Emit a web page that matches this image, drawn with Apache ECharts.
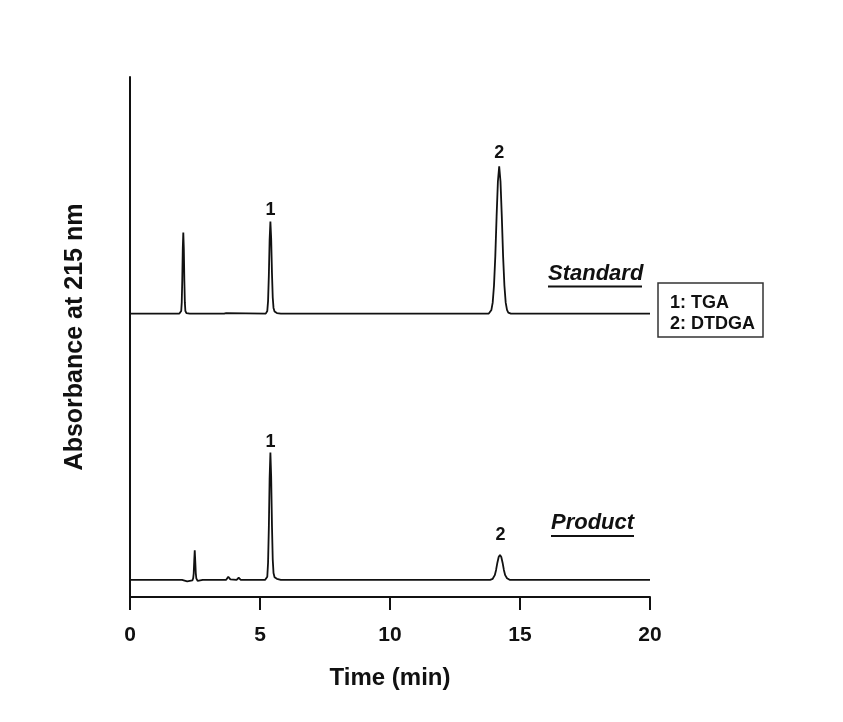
<!DOCTYPE html>
<html>
<head>
<meta charset="utf-8">
<script src="https://cdn.jsdelivr.net/npm/echarts@6/dist/echarts.min.js"></script>
<style>
html,body{margin:0;padding:0;background:#fff;}
#chart{width:843px;height:722px;}
</style>
</head>
<body>
<div id="chart"></div>
<script>
// ---- data ----
const xTicks = [0, 5, 10, 15, 20];
const xAxisTitle = 'Time (min)';
const yAxisTitle = 'Absorbance at 215 nm';

// Standard chromatogram (time in min, absorbance in arbitrary units, offset trace)
const standardTrace = [
  [0,54.5],[1.9,54.5],[1.97,55.0],[1.99,56.6],[2.01,60.9],[2.03,67.0],[2.05,70.1],
  [2.07,67.0],[2.09,60.9],[2.11,56.6],[2.13,55.0],[2.17,54.6],[2.3,54.5],
  [3.62,54.5],[3.66,54.3],[3.7,54.6],[3.75,54.5],
  [5.22,54.5],[5.28,55.0],[5.31,56.9],[5.34,61.8],[5.37,68.7],[5.40,72.2],
  [5.43,68.9],[5.46,62.3],[5.49,57.6],[5.52,55.6],[5.56,54.9],[5.65,54.6],[5.8,54.5],
  [13.8,54.5],[13.85,54.7],[13.9,55.2],[13.95,56.6],[14.0,59.9],[14.05,65.5],
  [14.1,73.2],[14.15,79.9],[14.2,82.8],[14.25,79.9],[14.3,73.2],[14.35,65.5],
  [14.4,59.9],[14.45,56.6],[14.5,55.2],[14.55,54.7],[14.65,54.5],[20,54.5]
];

// Product chromatogram
const productTrace = [
  [0,3.3],[2.0,3.3],[2.2,3.0],[2.4,3.2],[2.43,3.6],[2.45,4.5],[2.47,6.9],[2.49,9.0],
  [2.51,6.9],[2.53,4.6],[2.55,3.6],[2.6,3.1],[2.8,3.3],
  [3.7,3.3],[3.78,3.9],[3.86,3.4],[4.1,3.3],[4.18,3.7],[4.26,3.3],
  [5.2,3.3],[5.28,3.9],[5.31,6.6],[5.34,13.3],[5.37,22.9],[5.40,27.8],
  [5.43,23.0],[5.46,13.8],[5.49,7.2],[5.52,4.6],[5.56,3.8],[5.65,3.5],[5.8,3.3],
  [13.85,3.3],[13.95,3.5],[14.03,4.2],[14.08,5.2],[14.13,6.6],[14.18,7.7],[14.23,8.1],
  [14.28,7.7],[14.33,6.6],[14.38,5.2],[14.43,4.2],[14.5,3.6],[14.6,3.3],[20,3.3]
];

// Peak number labels (name, time, label anchor)
const peakLabels = [
  ['1', 5.40, 74.4],
  ['2', 14.2, 85.4],
  ['1', 5.40, 29.8],
  ['2', 14.25, 11.9]
];
const traceNames = ['Standard', 'Product'];
const legendLines = ['1: TGA', '2: DTDGA'];

// ---- chart ----
const FONT = "'Liberation Sans', Arial, Helvetica, sans-serif";
const chart = echarts.init(document.getElementById('chart'), null, {renderer: 'canvas'});

const option = {
  backgroundColor: '#ffffff',
  animation: false,
  grid: {left: 130, top: 77, width: 520, height: 520},
  xAxis: {
    type: 'value', min: 0, max: 20, interval: 5,
    axisLine: {show: true, lineStyle: {color: '#111', width: 2}},
    axisTick: {show: true, inside: false, length: 13, lineStyle: {color: '#111', width: 2}},
    axisLabel: {
      show: true, margin: 28, color: '#111', fontFamily: FONT, fontWeight: 'bold', fontSize: 21,
      formatter: v => (xTicks.indexOf(v) >= 0 ? String(v) : '')
    },
    splitLine: {show: false},
    name: xAxisTitle, nameLocation: 'middle', nameGap: 69,
    nameTextStyle: {color: '#111', fontFamily: FONT, fontWeight: 'bold', fontSize: 24}
  },
  yAxis: {
    type: 'value', min: 0, max: 100,
    axisLine: {show: true, lineStyle: {color: '#111', width: 2}},
    axisTick: {show: false},
    axisLabel: {show: false},
    splitLine: {show: false},
    name: yAxisTitle, nameLocation: 'middle', nameGap: 42, nameRotate: 90,
    nameTextStyle: {color: '#111', fontFamily: FONT, fontWeight: 'bold', fontSize: 25}
  },
  series: [
    {
      name: traceNames[0], type: 'line', data: standardTrace, showSymbol: false, smooth: false,
      lineStyle: {color: '#111', width: 1.8}, silent: true
    },
    {
      name: traceNames[1], type: 'line', data: productTrace, showSymbol: false, smooth: false,
      lineStyle: {color: '#111', width: 1.8}, silent: true
    },
    {
      type: 'scatter', symbolSize: 0, silent: true,
      itemStyle: {opacity: 1, color: '#111'},
      data: peakLabels.map(p => ({value: [p[1], p[2]], name: p[0]})),
      label: {
        show: true, position: 'inside', formatter: '{b}', opacity: 1,
        color: '#111', fontFamily: FONT, fontWeight: 'bold', fontSize: 18
      }
    }
  ],
  graphic: [
    // Standard label
    {type: 'text', left: 548, top: 263, style: {text: traceNames[0], font: "italic bold 22px " + FONT, fill: '#111'}},
    {type: 'rect', shape: {x: 548, y: 285.5, width: 94, height: 2}, style: {fill: '#111'}},
    // Product label
    {type: 'text', left: 551, top: 512, style: {text: traceNames[1], font: "italic bold 22px " + FONT, fill: '#111'}},
    {type: 'rect', shape: {x: 551, y: 535, width: 83, height: 2}, style: {fill: '#111'}},
    // legend box
    {type: 'rect', shape: {x: 658, y: 283, width: 105, height: 54}, style: {fill: 'none', stroke: '#333', lineWidth: 1.5}},
    {type: 'text', left: 670, top: 294, style: {text: legendLines[0], font: "bold 18px " + FONT, fill: '#111'}},
    {type: 'text', left: 670, top: 315, style: {text: legendLines[1], font: "bold 18px " + FONT, fill: '#111'}}
  ]
};
chart.setOption(option);
</script>
</body>
</html>
